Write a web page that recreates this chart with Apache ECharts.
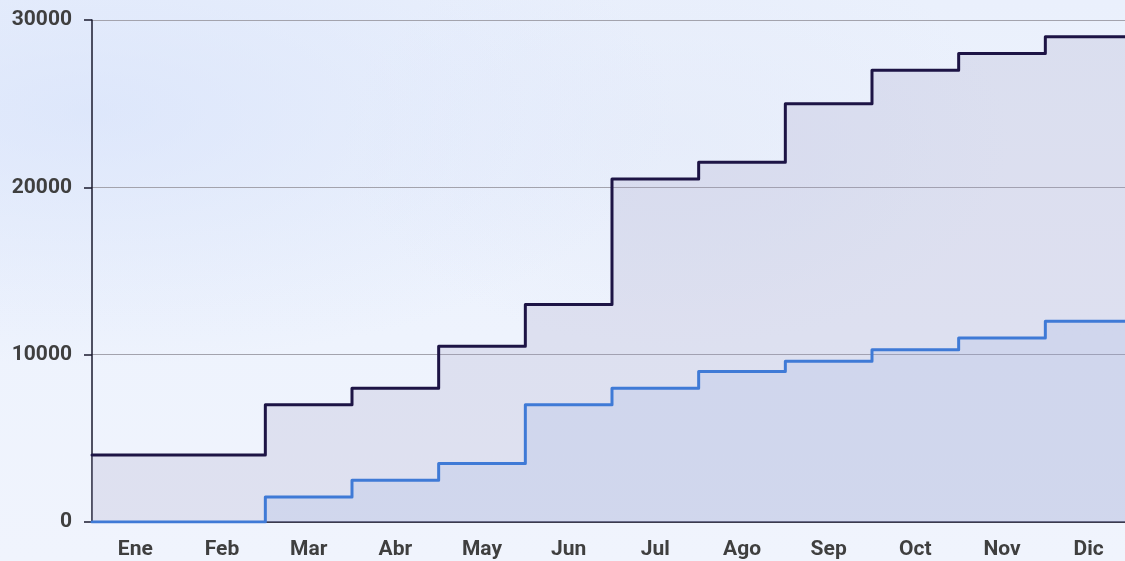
<!DOCTYPE html>
<html>
<head>
<meta charset="utf-8">
<script src="https://cdn.jsdelivr.net/npm/echarts@6/dist/echarts.min.js"></script>
<style>
  html, body { margin: 0; padding: 0; }
  body {
    width: 1125px; height: 561px; overflow: hidden;
    background:
      radial-gradient(ellipse at 8% 20%, rgba(212, 224, 250, 0.6), rgba(212, 224, 250, 0) 40%),
      radial-gradient(ellipse at 60% 25%, rgba(225, 232, 248, 0.5), rgba(225, 232, 248, 0) 35%),
      linear-gradient(180deg, #eaf0fc 0%, #eef3fd 60%, #f0f4fd 100%);
  }
  #chart { width: 1125px; height: 561px; }
</style>
</head>
<body>
<div id="chart"></div>
<script>
// meses
const months = ["Ene", "Feb", "Mar", "Abr", "May", "Jun", "Jul", "Ago", "Sep", "Oct", "Nov", "Dic"];
// valores por mes
const darkValues = [4000, 4000, 7000, 8000, 10500, 13000, 20500, 21500, 25000, 27000, 28000, 29000];
const blueValues = [0, 0, 1500, 2500, 3500, 7000, 8000, 9000, 9600, 10300, 11000, 12000];
const yTicks = [0, 10000, 20000, 30000];

// cada mes ocupa de i a i+1 en el eje oculto
function toSteps(vals) {
  let pts = vals.map((v, i) => [i, v]);
  pts.push([vals.length, vals[vals.length - 1]]);
  return pts;
}

const textColor = "#3f3f3f";
let chart = echarts.init(document.getElementById("chart"));
chart.setOption({
  animation: false,
  grid: { left: 92, top: 20, right: -7, bottom: 39, outerBoundsMode: "none", containLabel: false },
  xAxis: [
    {
      type: "category",
      data: months,
      boundaryGap: true,
      axisLine: { lineStyle: { color: "#1a1a2e", width: 1.5 } },
      axisTick: { show: false },
      axisLabel: {
        color: textColor, fontFamily: "Roboto", fontWeight: "bold", fontSize: 21,
        margin: 17, interval: 0
      },
      splitLine: { show: false }
    },
    {
      type: "value",
      min: 0, max: months.length,
      show: false
    }
  ],
  yAxis: {
    type: "value",
    min: yTicks[0], max: yTicks[yTicks.length - 1], interval: 10000,
    axisLine: { show: true, lineStyle: { color: "#1a1a2e", width: 1.5 } },
    axisTick: { show: true, length: 8, lineStyle: { color: "#1a1a2e", width: 1.5 } },
    axisLabel: {
      color: textColor, fontFamily: "Roboto", fontWeight: "bold", fontSize: 21, margin: 20,
      formatter: (v) => String(v)
    },
    splitLine: { show: true, lineStyle: { color: "#a3a3ad", width: 1.2 } }
  },
  series: [
    {
      name: "total",
      type: "line",
      xAxisIndex: 1,
      step: "end",
      data: toSteps(darkValues),
      symbol: "none",
      lineStyle: { color: "#1d1445", width: 3, join: "round", cap: "round" },
      areaStyle: { color: "rgba(160, 155, 195, 0.3)", origin: "start" },
      z: 3
    },
    {
      name: "parcial",
      type: "line",
      xAxisIndex: 1,
      step: "end",
      data: toSteps(blueValues),
      symbol: "none",
      lineStyle: { color: "#3f7ad6", width: 3, join: "round", cap: "round" },
      areaStyle: { color: "rgba(140, 165, 220, 0.25)", origin: "start" },
      z: 4
    }
  ]
});
</script>
</body>
</html>
